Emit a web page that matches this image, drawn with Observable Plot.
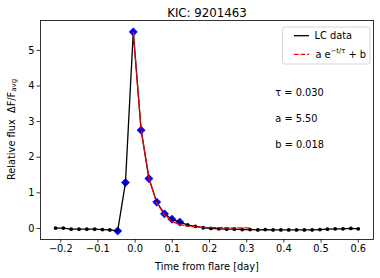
<!DOCTYPE html>
<html>
<head>
<meta charset="utf-8">
<script src="https://cdn.jsdelivr.net/npm/d3@7"></script>
<script src="https://cdn.jsdelivr.net/npm/@observablehq/plot@0.6"></script>
<style>
  html, body { margin: 0; padding: 0; background: #fff; }
  #chart svg { display: block; }
</style>
</head>
<body>
<div id="chart"></div>
<script>
const title = "KIC: 9201463";
const xLabel = "Time from flare [day]";
const xTicks = [-0.2, -0.1, 0.0, 0.1, 0.2, 0.3, 0.4, 0.5, 0.6];
const yTicks = [0, 1, 2, 3, 4, 5];

// light curve (time from flare, relative flux)
const lcTime = [-0.214, -0.193, -0.172, -0.151, -0.130, -0.109, -0.088, -0.068, -0.047, -0.026,
                -0.005, 0.016, 0.037, 0.058, 0.079, 0.099, 0.120, 0.141, 0.162, 0.183,
                0.204, 0.225, 0.246, 0.267, 0.288, 0.309, 0.330, 0.350, 0.371, 0.392,
                0.413, 0.434, 0.455, 0.476, 0.497, 0.517, 0.538, 0.559, 0.580, 0.600];
const lcFlux = [0.01, 0.01, -0.02, -0.02, -0.02, -0.02, -0.03, -0.04, -0.07, 1.29,
                5.52, 2.76, 1.40, 0.74, 0.41, 0.26, 0.18, 0.10, 0.06, 0.02,
                0.00, -0.01, -0.02, -0.02, -0.03, -0.03, -0.04, -0.03, -0.04, -0.04,
                -0.04, -0.04, -0.04, -0.04, -0.03, -0.02, -0.01, -0.01, 0.00, -0.01];

// flare points (blue diamonds)
const flareTime = [-0.047, -0.026, -0.005, 0.016, 0.037, 0.058, 0.079, 0.099, 0.120];
const flareFlux = [-0.07, 1.29, 5.52, 2.76, 1.40, 0.74, 0.41, 0.26, 0.18];

// exponential fit (red dashed)
const fitTime = [-0.005, 0.016, 0.037, 0.058, 0.079, 0.099, 0.120, 0.141, 0.162, 0.183,
                 0.204, 0.225, 0.246, 0.267, 0.288, 0.309];
const fitFlux = [5.52, 2.80, 1.43, 0.73, 0.38, 0.20, 0.11, 0.065, 0.042, 0.030,
                 0.024, 0.021, 0.019, 0.019, 0.018, 0.018];

const legendLabels = ["LC data", "a e", "\u2212t/\u03c4", " + b"];
const annotLabels = ["\u03c4 = 0.030", "a = 5.50", "b = 0.018"];

const lc = lcTime.map((t, i) => ({t, f: lcFlux[i]}));
const flare = flareTime.map((t, i) => ({t, f: flareFlux[i]}));
const fit = fitTime.map((t, i) => ({t, f: fitFlux[i]}));

const FS = 9.8;
const plot = Plot.plot({
  width: 380,
  height: 278,
  marginLeft: 40,
  marginRight: 7,
  marginTop: 20,
  marginBottom: 39,
  style: {fontFamily: "DejaVu Sans", fontSize: FS + "px", color: "#000", background: "#fff"},
  x: {domain: [-0.2545, 0.641]},
  y: {domain: [-0.31, 5.84]},
  marks: [
    Plot.axisX({ticks: xTicks, tickSize: 3.5, tickPadding: 2, tickFormat: d3.format(".1f"), label: null, fontSize: FS, strokeWidth: 0.8}),
    Plot.axisY({ticks: yTicks, tickSize: 3.5, tickPadding: 2.5, tickFormat: d3.format("d"), label: null, fontSize: FS, strokeWidth: 0.8}),
    Plot.dot(lc, {x: "t", y: "f", r: 1.9, fill: "#000", stroke: null}),
    Plot.dot(flare, {x: "t", y: "f", symbol: "diamond2", r: 3.7, fill: "#0000ff", stroke: "#0000ff", strokeWidth: 0.6}),
    Plot.line(lc, {x: "t", y: "f", stroke: "#000", strokeWidth: 1.3}),
    Plot.line(fit, {x: "t", y: "f", stroke: "#ff0000", strokeWidth: 1.3, strokeDasharray: "4.6,2"}),
    Plot.text(annotLabels, {x: () => 0.377, y: (d, i) => 3.80 - i * 0.72, text: d => d, textAnchor: "start", fontSize: FS, fill: "#000"}),
    Plot.text([title], {frameAnchor: "top", lineAnchor: "middle", dy: -7, fontSize: 11.8, fill: "#000"}),
    Plot.text([xLabel], {frameAnchor: "bottom", lineAnchor: "middle", dy: 27, fontSize: FS, fill: "#000"}),
    Plot.frame({stroke: "#000", strokeWidth: 0.8})
  ]
});
document.getElementById("chart").appendChild(plot);

const svg = d3.select(plot);
// y label with subscript
const yl = svg.append("text")
  .attr("transform", "translate(12,129.5) rotate(-90)")
  .attr("text-anchor", "middle")
  .attr("dominant-baseline", "middle")
  .attr("font-size", FS)
  .attr("fill", "#000");
yl.append("tspan").text("Relative flux  \u0394F/F");
yl.append("tspan").attr("font-size", 7).attr("dy", 2.2).text("avg");

// legend
const lg = svg.append("g").attr("text-anchor", "start");
lg.append("rect").attr("x", 282.5).attr("y", 27).attr("width", 87.5).attr("height", 37)
  .attr("rx", 2.5).attr("fill", "#fff").attr("fill-opacity", 0.8)
  .attr("stroke", "#cccccc").attr("stroke-width", 0.8);
lg.append("line").attr("x1", 294).attr("x2", 309).attr("y1", 35.7).attr("y2", 35.7)
  .attr("stroke", "#000").attr("stroke-width", 1.3);
lg.append("text").attr("x", 314.5).attr("y", 35.7).attr("dominant-baseline", "middle")
  .attr("text-anchor", "start")
  .attr("font-size", FS).attr("fill", "#000").text(legendLabels[0]);
lg.append("line").attr("x1", 294).attr("x2", 309).attr("y1", 54.3).attr("y2", 54.3)
  .attr("stroke", "#ff0000").attr("stroke-width", 1.3).attr("stroke-dasharray", "4.6,2");
const ft = lg.append("text").attr("x", 315.5).attr("y", 57.5)
  .attr("text-anchor", "start")
  .attr("font-size", FS).attr("fill", "#000");
ft.append("tspan").text(legendLabels[1]);
ft.append("tspan").attr("font-size", 6.8).attr("dy", -4.2).text(legendLabels[2]);
ft.append("tspan").attr("font-size", FS).attr("dy", 4.2).text(legendLabels[3]);
</script>
</body>
</html>
